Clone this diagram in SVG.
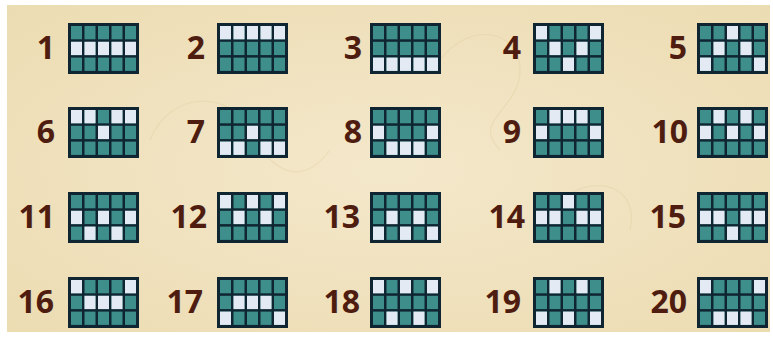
<svg xmlns="http://www.w3.org/2000/svg" xmlns:xlink="http://www.w3.org/1999/xlink" width="773" height="339" viewBox="0 0 773 339">
<style>
.n{font-family:"Open Sans","Liberation Sans",Arial,sans-serif;font-weight:bold;font-size:32px;fill:#4e1d10;text-anchor:end}
.t{fill:#3e8e8c}
.w{fill:#e4eaf4}
.f{fill:#0f2632}
</style>
<defs>
<radialGradient id="bg" cx="50%" cy="50%" r="70%">
<stop offset="0" stop-color="#f4e8cb"/>
<stop offset="1" stop-color="#ecdcb2"/>
</radialGradient>
<g id="grid">
<rect class="f" x="0" y="0" width="71" height="51"/>
<rect class="t" x="3" y="3" width="11" height="13.3"/><rect class="t" x="16.5" y="3" width="11" height="13.3"/><rect class="t" x="30" y="3" width="11" height="13.3"/><rect class="t" x="43.5" y="3" width="11" height="13.3"/><rect class="t" x="57" y="3" width="11" height="13.3"/>
<rect class="t" x="3" y="18.8" width="11" height="13.3"/><rect class="t" x="16.5" y="18.8" width="11" height="13.3"/><rect class="t" x="30" y="18.8" width="11" height="13.3"/><rect class="t" x="43.5" y="18.8" width="11" height="13.3"/><rect class="t" x="57" y="18.8" width="11" height="13.3"/>
<rect class="t" x="3" y="34.6" width="11" height="13.3"/><rect class="t" x="16.5" y="34.6" width="11" height="13.3"/><rect class="t" x="30" y="34.6" width="11" height="13.3"/><rect class="t" x="43.5" y="34.6" width="11" height="13.3"/><rect class="t" x="57" y="34.6" width="11" height="13.3"/>
</g>
<rect id="c0r0" class="w" x="3" y="3" width="11" height="13.3"/><rect id="c1r0" class="w" x="16.5" y="3" width="11" height="13.3"/><rect id="c2r0" class="w" x="30" y="3" width="11" height="13.3"/><rect id="c3r0" class="w" x="43.5" y="3" width="11" height="13.3"/><rect id="c4r0" class="w" x="57" y="3" width="11" height="13.3"/>
<rect id="c0r1" class="w" x="3" y="18.8" width="11" height="13.3"/><rect id="c1r1" class="w" x="16.5" y="18.8" width="11" height="13.3"/><rect id="c2r1" class="w" x="30" y="18.8" width="11" height="13.3"/><rect id="c3r1" class="w" x="43.5" y="18.8" width="11" height="13.3"/><rect id="c4r1" class="w" x="57" y="18.8" width="11" height="13.3"/>
<rect id="c0r2" class="w" x="3" y="34.6" width="11" height="13.3"/><rect id="c1r2" class="w" x="16.5" y="34.6" width="11" height="13.3"/><rect id="c2r2" class="w" x="30" y="34.6" width="11" height="13.3"/><rect id="c3r2" class="w" x="43.5" y="34.6" width="11" height="13.3"/><rect id="c4r2" class="w" x="57" y="34.6" width="11" height="13.3"/>
</defs>
<rect width="773" height="339" fill="#ffffff"/>
<rect x="7" y="5" width="763" height="327" fill="url(#bg)"/>
<g fill="none" stroke="#e0cc9c" stroke-width="1.2" opacity="0.35">
<path d="M150 140 C 170 90, 230 90, 250 130 S 300 190, 330 150"/>
<path d="M440 60 C 470 20, 520 30, 520 70 S 470 120, 500 150"/>
<path d="M560 200 C 600 170, 640 190, 630 230"/>
</g>
<g id="line1" transform="translate(68,23)"><text class="n" x="-13" y="36">1</text><use href="#grid"/><use href="#c0r1"/><use href="#c1r1"/><use href="#c2r1"/><use href="#c3r1"/><use href="#c4r1"/></g>
<g id="line2" transform="translate(217,23)"><text class="n" x="-12" y="36">2</text><use href="#grid"/><use href="#c0r0"/><use href="#c1r0"/><use href="#c2r0"/><use href="#c3r0"/><use href="#c4r0"/></g>
<g id="line3" transform="translate(370,23)"><text class="n" x="-8" y="36">3</text><use href="#grid"/><use href="#c0r2"/><use href="#c1r2"/><use href="#c2r2"/><use href="#c3r2"/><use href="#c4r2"/></g>
<g id="line4" transform="translate(533,23)"><text class="n" x="-12" y="36">4</text><use href="#grid"/><use href="#c0r0"/><use href="#c1r1"/><use href="#c2r2"/><use href="#c3r1"/><use href="#c4r0"/></g>
<g id="line5" transform="translate(697,23)"><text class="n" x="-10" y="36">5</text><use href="#grid"/><use href="#c0r2"/><use href="#c1r1"/><use href="#c2r0"/><use href="#c3r1"/><use href="#c4r2"/></g>
<g id="line6" transform="translate(68,107)"><text class="n" x="-13" y="36">6</text><use href="#grid"/><use href="#c0r0"/><use href="#c1r0"/><use href="#c2r1"/><use href="#c3r0"/><use href="#c4r0"/></g>
<g id="line7" transform="translate(217,107)"><text class="n" x="-12" y="36">7</text><use href="#grid"/><use href="#c0r2"/><use href="#c1r2"/><use href="#c2r1"/><use href="#c3r2"/><use href="#c4r2"/></g>
<g id="line8" transform="translate(370,107)"><text class="n" x="-8" y="36">8</text><use href="#grid"/><use href="#c0r1"/><use href="#c1r2"/><use href="#c2r2"/><use href="#c3r2"/><use href="#c4r1"/></g>
<g id="line9" transform="translate(533,107)"><text class="n" x="-12" y="36">9</text><use href="#grid"/><use href="#c0r1"/><use href="#c1r0"/><use href="#c2r0"/><use href="#c3r0"/><use href="#c4r1"/></g>
<g id="line10" transform="translate(697,107)"><text class="n" x="-9" y="36">10</text><use href="#grid"/><use href="#c0r1"/><use href="#c1r0"/><use href="#c2r1"/><use href="#c3r0"/><use href="#c4r1"/></g>
<g id="line11" transform="translate(68,192)"><text class="n" x="-13" y="36">11</text><use href="#grid"/><use href="#c0r1"/><use href="#c1r2"/><use href="#c2r1"/><use href="#c3r2"/><use href="#c4r1"/></g>
<g id="line12" transform="translate(217,192)"><text class="n" x="-10" y="36">12</text><use href="#grid"/><use href="#c0r0"/><use href="#c1r1"/><use href="#c2r0"/><use href="#c3r1"/><use href="#c4r0"/></g>
<g id="line13" transform="translate(370,192)"><text class="n" x="-10" y="36">13</text><use href="#grid"/><use href="#c0r2"/><use href="#c1r1"/><use href="#c2r2"/><use href="#c3r1"/><use href="#c4r2"/></g>
<g id="line14" transform="translate(533,192)"><text class="n" x="-8" y="36">14</text><use href="#grid"/><use href="#c0r1"/><use href="#c1r1"/><use href="#c2r0"/><use href="#c3r1"/><use href="#c4r1"/></g>
<g id="line15" transform="translate(697,192)"><text class="n" x="-11" y="36">15</text><use href="#grid"/><use href="#c0r1"/><use href="#c1r1"/><use href="#c2r2"/><use href="#c3r1"/><use href="#c4r1"/></g>
<g id="line16" transform="translate(68,277)"><text class="n" x="-14" y="36">16</text><use href="#grid"/><use href="#c0r0"/><use href="#c1r1"/><use href="#c2r1"/><use href="#c3r1"/><use href="#c4r0"/></g>
<g id="line17" transform="translate(217,277)"><text class="n" x="-14" y="36">17</text><use href="#grid"/><use href="#c0r2"/><use href="#c1r1"/><use href="#c2r1"/><use href="#c3r1"/><use href="#c4r2"/></g>
<g id="line18" transform="translate(370,277)"><text class="n" x="-10" y="36">18</text><use href="#grid"/><use href="#c0r0"/><use href="#c1r2"/><use href="#c2r0"/><use href="#c3r2"/><use href="#c4r0"/></g>
<g id="line19" transform="translate(533,277)"><text class="n" x="-12" y="36">19</text><use href="#grid"/><use href="#c0r2"/><use href="#c1r0"/><use href="#c2r2"/><use href="#c3r0"/><use href="#c4r2"/></g>
<g id="line20" transform="translate(697,277)"><text class="n" x="-10" y="36">20</text><use href="#grid"/><use href="#c0r0"/><use href="#c1r2"/><use href="#c2r2"/><use href="#c3r2"/><use href="#c4r0"/></g>
</svg>
